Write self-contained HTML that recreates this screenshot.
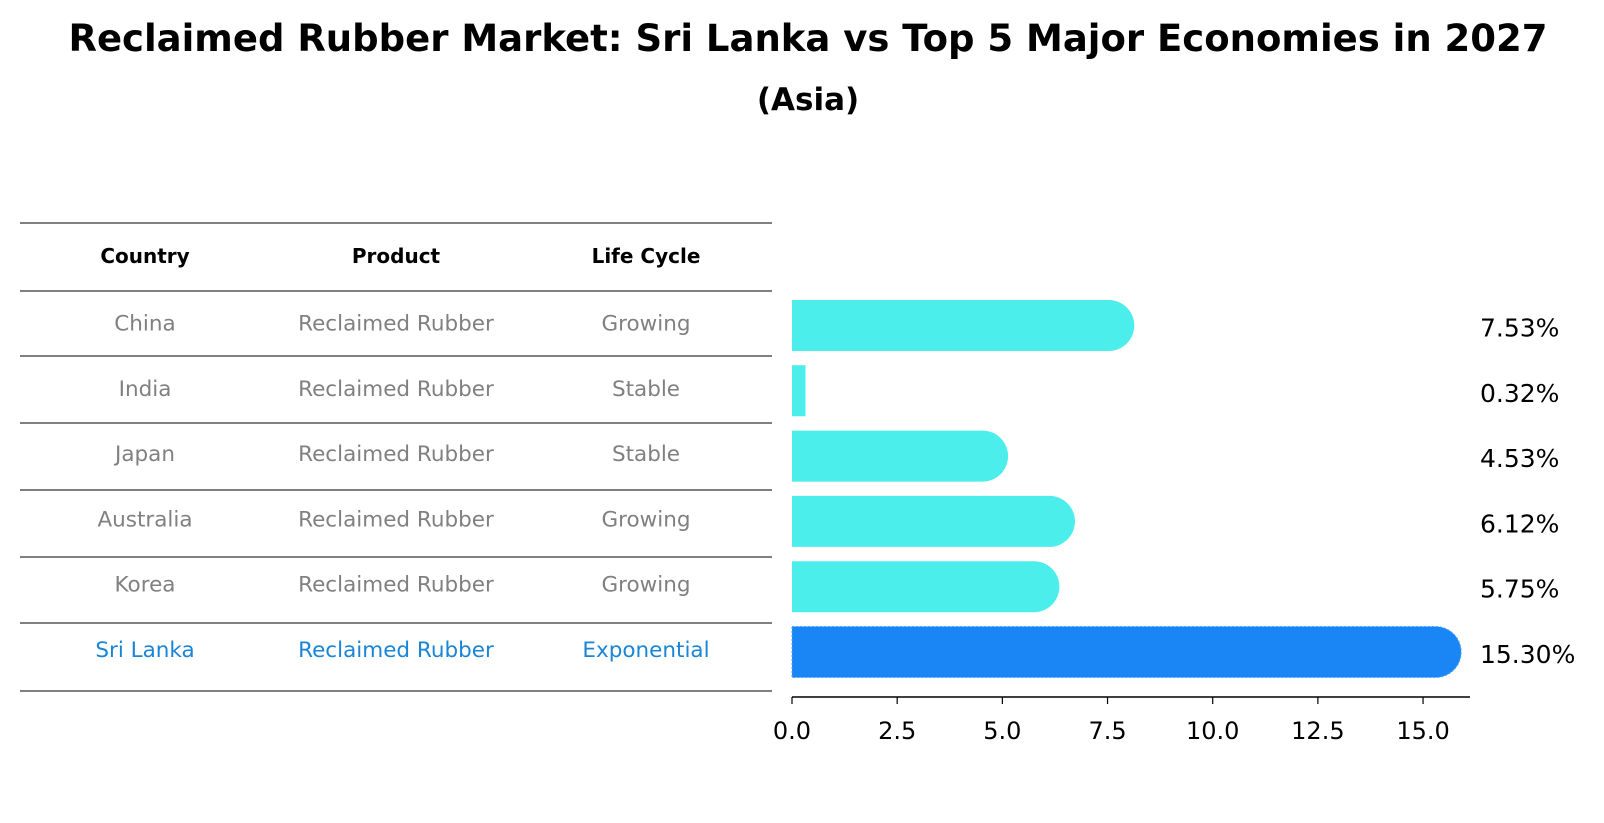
<!DOCTYPE html>
<html><head><meta charset="utf-8"><style>
body{margin:0;background:#fff;font-family:"Liberation Sans","DejaVu Sans",sans-serif}
#wrap{position:relative;width:1604px;height:823px;overflow:hidden}
</style></head><body>
<div id="wrap">
<svg id="svg" width="1604" height="823" xmlns="http://www.w3.org/2000/svg">
<text x="808" y="51" text-anchor="middle" font-size="37" font-weight="bold" font-family="DejaVu Sans, sans-serif">Reclaimed Rubber Market: Sri Lanka vs Top 5 Major Economies in 2027</text>
<text x="808" y="110" text-anchor="middle" font-size="31" font-weight="bold" font-family="DejaVu Sans, sans-serif">(Asia)</text>
<g id="table"></g>
<g id="bars"></g>
<g id="axis"></g>
</svg>
</div>
<script>
const countries=["China","India","Japan","Australia","Korea","Sri Lanka"];
const products=["Reclaimed Rubber","Reclaimed Rubber","Reclaimed Rubber","Reclaimed Rubber","Reclaimed Rubber","Reclaimed Rubber"];
const lifecycles=["Growing","Stable","Stable","Growing","Growing","Exponential"];
const values=[7.53,0.32,4.53,6.12,5.75,15.30];
const ticks=[0,2.5,5,7.5,10,12.5,15];

const NS="http://www.w3.org/2000/svg";
function mk(tag,attrs,parent,text){const e=document.createElementNS(NS,tag);for(const k in attrs)e.setAttribute(k,attrs[k]);if(text!==undefined)e.textContent=text;parent.appendChild(e);return e;}
const x0=792,pxPerUnit=42.07;
function xs(v){return x0+v*pxPerUnit;}
const rowY0=325.5,rowStep=65.3,barH=51;
function ys(i){return rowY0+i*rowStep;}

const table=document.getElementById('table');
const lineYs=[223,291,356,423,490,557,623,691];
lineYs.forEach((y,i)=>{const l=mk('line',{x1:20,x2:772,y1:y,y2:y,stroke:'#000','stroke-width':1},table);

});
const colX=[145,396,646];
["Country","Product","Life Cycle"].forEach((h,j)=>{const t=mk('text',{x:colX[j],y:263,'text-anchor':'middle','font-size':20,'font-weight':'bold','font-family':'DejaVu Sans, sans-serif'},table,h);

});
countries.forEach((c,i)=>{
 const hl=c==="Sri Lanka";const fill=hl?'#1a85d6':'#808080';
 [c,products[i],lifecycles[i]].forEach((v,j)=>{
  const t=mk('text',{x:colX[j],y:ys(i)+5,'text-anchor':'middle','font-size':21.5,fill:fill,'font-family':'DejaVu Sans, sans-serif'},table,v);
  
  
 });
});

const bars=document.getElementById('bars');
values.forEach((v,i)=>{
 const hl=countries[i]==="Sri Lanka";const col=hl?'#1a85f5':'#4beeea';
 const y=ys(i)-barH/2,xe=xs(v),r=barH/2;
 let d;
 if(v>1){d=`M${x0},${y}H${xe}A${r},${r} 0 0 1 ${xe},${y+barH}H${x0}Z`;}
 else{d=`M${x0},${y}H${xe}V${y+barH}H${x0}Z`;}
 const p=mk('path',{d:d,fill:col},bars);
 if(hl){p.setAttribute('stroke','#4da6ff');p.setAttribute('stroke-dasharray','2,2');p.setAttribute('stroke-width','1');}
 
 
 const t=mk('text',{x:1480,y:ys(i)+11,'font-size':25,'font-family':'DejaVu Sans, sans-serif'},bars,values[i].toFixed(2)+'%');
 
 
});

const axis=document.getElementById('axis');
const al=mk('line',{x1:x0,x2:1470,y1:697,y2:697,stroke:'#000','stroke-width':1.5},axis);


ticks.forEach(tv=>{
 const l=mk('line',{x1:xs(tv),x2:xs(tv),y1:697,y2:704,stroke:'#000','stroke-width':1.2},axis);
 
 
 const t=mk('text',{x:xs(tv),y:739,'text-anchor':'middle','font-size':24,'font-family':'DejaVu Sans, sans-serif'},axis,tv.toFixed(1));
 
 
});
</script>
</body></html>
